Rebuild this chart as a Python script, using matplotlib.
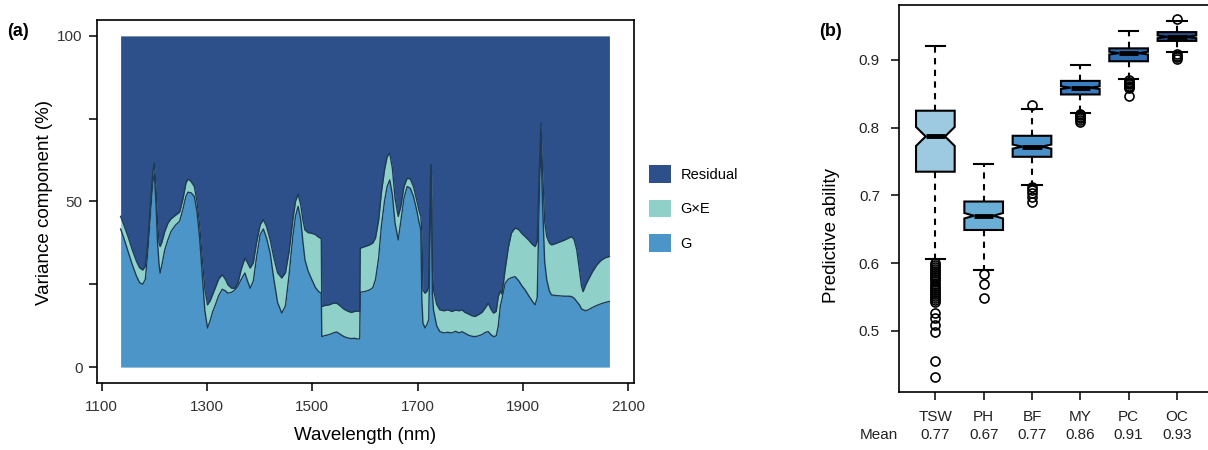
import matplotlib
matplotlib.use("Agg")
import matplotlib.pyplot as plt
from matplotlib.patches import Patch

plt.rcParams['font.family'] = ['Liberation Sans', 'DejaVu Sans']

# ---- panel (a): variance components along the spectrum ----
wavelength = [
    1136, 1142, 1150, 1158, 1166, 1172, 1178, 1183, 1188, 1193, 1197, 1200,
    1203, 1206, 1209, 1211, 1214, 1220, 1226, 1232, 1240, 1248, 1254, 1260,
    1264, 1270, 1276, 1281, 1286, 1291, 1296, 1301, 1306, 1311, 1316, 1322,
    1329, 1335, 1340, 1347, 1353, 1359, 1365, 1372, 1377, 1382, 1388, 1394,
    1401, 1407, 1413, 1420, 1427, 1434, 1442, 1449, 1456, 1463, 1468, 1473,
    1478, 1482, 1486, 1492, 1499, 1506, 1512, 1517, 1518, 1524, 1532, 1540,
    1546, 1552, 1560, 1567, 1574, 1580, 1585, 1590, 1591, 1600, 1609, 1615,
    1620, 1626, 1631, 1637, 1642, 1647, 1652, 1657, 1663, 1668, 1674, 1680,
    1686, 1692, 1698, 1703, 1706, 1708, 1710, 1714, 1718, 1721, 1724, 1725,
    1726.5, 1728, 1730, 1736, 1742, 1750, 1757, 1765, 1772, 1779, 1784, 1790,
    1797, 1803, 1809, 1815, 1822, 1829, 1834, 1839, 1844, 1849, 1853, 1857,
    1860, 1866, 1872, 1878, 1885, 1892, 1898, 1904, 1911, 1918, 1923, 1927,
    1931, 1934, 1937, 1941, 1945, 1950, 1954, 1962, 1970, 1978, 1986, 1992,
    1997, 2002, 2007, 2011, 2014, 2019, 2024, 2032, 2040, 2048, 2056, 2064,
]
# upper edge of the G layer (%)
g_top = [
    41.7, 39.0, 35.0, 31.0, 27.5, 25.5, 25.0, 26.5, 35.4, 47.0, 55.5, 58.6,
    50.0, 38.0, 31.0, 28.4, 30.5, 35.5, 38.5, 41.0, 42.8, 44.0, 47.5, 51.5,
    52.8, 52.6, 51.5, 47.0, 39.0, 28.0, 17.0, 11.8, 14.0, 16.8, 18.8, 21.5,
    23.5, 23.0, 22.3, 22.6, 23.3, 24.5, 26.5, 28.4, 26.0, 23.8, 26.0, 33.0,
    40.0, 41.7, 39.0, 34.4, 26.5, 19.5, 16.3, 18.5, 28.0, 39.5, 45.5, 48.5,
    44.5, 38.0, 32.4, 29.0, 26.4, 24.0, 22.8, 22.3, 9.2, 9.5, 9.8, 10.3,
    10.6, 10.0, 9.2, 8.8, 8.6, 8.7, 8.5, 8.5, 22.6, 22.8, 23.3, 24.0,
    26.5, 33.0, 42.4, 50.0, 54.5, 56.5, 52.0, 43.5, 38.4, 44.0, 51.0, 54.5,
    54.0, 51.5, 47.5, 43.5, 41.4, 20.0, 13.3, 11.8, 13.0, 14.3, 45.0, 54.0,
    50.0, 22.0, 17.3, 12.5, 10.7, 10.3, 10.5, 10.3, 10.8, 10.3, 10.7, 10.2,
    9.6, 9.3, 9.2, 9.4, 9.8, 10.5, 10.7, 9.8, 9.2, 9.4, 12.3, 18.5,
    20.5, 25.3, 26.5, 27.0, 27.3, 26.0, 24.5, 23.3, 21.5, 19.8, 18.8, 21.0,
    52.0, 68.1, 50.0, 32.0, 26.4, 23.0, 21.8, 21.6, 21.5, 21.4, 21.4, 21.3,
    20.8, 19.8, 18.8, 17.6, 17.3, 17.0, 17.3, 18.0, 18.6, 19.1, 19.5, 19.8,
]
# upper edge of the G×E layer (%)
gxe_top = [
    45.5, 43.0, 39.5, 35.5, 32.0, 30.0, 29.3, 30.5, 38.4, 50.0, 58.5, 61.6,
    55.0, 44.0, 37.5, 36.4, 37.5, 41.0, 43.5, 44.8, 45.8, 46.8, 50.5, 55.5,
    56.8, 56.0, 54.5, 50.0, 43.0, 33.0, 23.5, 18.8, 20.0, 22.0, 24.0, 26.5,
    27.9, 26.5, 24.8, 23.8, 23.8, 25.5, 29.5, 32.9, 31.5, 29.9, 31.5, 37.5,
    43.0, 44.5, 42.5, 38.4, 33.0, 28.5, 26.9, 28.5, 35.0, 44.5, 50.0, 52.2,
    49.0, 44.5, 41.4, 40.6, 40.4, 40.0, 39.2, 38.8, 18.3, 18.6, 18.8, 19.3,
    19.3, 18.6, 17.5, 16.9, 16.5, 16.8, 16.9, 16.8, 35.9, 36.4, 36.9, 37.5,
    39.0, 44.5, 52.5, 59.5, 63.5, 64.6, 60.0, 51.0, 45.5, 48.5, 54.5, 57.0,
    56.8, 54.5, 50.5, 47.0, 45.5, 40.5, 23.3, 22.3, 23.0, 24.3, 55.0, 61.1,
    58.0, 30.0, 23.3, 19.0, 17.3, 17.0, 17.3, 16.8, 17.2, 17.0, 17.3, 16.5,
    16.0, 15.5, 15.3, 15.8, 16.5, 18.0, 19.3, 17.5, 16.3, 16.8, 21.3, 23.0,
    22.0, 29.4, 36.0, 40.5, 42.0, 41.5, 40.3, 39.4, 38.3, 37.0, 36.4, 38.0,
    60.0, 73.6, 60.0, 44.0, 39.4, 37.5, 36.9, 37.3, 37.8, 38.3, 38.9, 39.4,
    38.5, 35.4, 29.5, 24.5, 22.8, 24.8, 26.4, 28.8, 30.8, 32.2, 33.0, 33.4,
]
layer_names = ['Residual', 'G×E', 'G']
layer_colors = ['#2d4f8a', '#8fd0c8', '#4c95c8']
edge_color = '#1d3b56'

# ---- panel (b): predictive ability per trait ----
traits = ['TSW', 'PH', 'BF', 'MY', 'PC', 'OC']
trait_means = [0.77, 0.67, 0.77, 0.86, 0.91, 0.93]
q1 = [0.735, 0.649, 0.757, 0.849, 0.898, 0.928]
med = [0.787, 0.670, 0.772, 0.859, 0.910, 0.934]
q3 = [0.825, 0.691, 0.788, 0.869, 0.917, 0.941]
whisker_lo = [0.606, 0.590, 0.715, 0.821, 0.872, 0.911]
whisker_hi = [0.920, 0.747, 0.827, 0.892, 0.943, 0.958]
notch_lo = [0.773, 0.666, 0.769, 0.857, 0.908, 0.932]
notch_hi = [0.801, 0.674, 0.775, 0.861, 0.912, 0.936]
outliers = [
    [0.601, 0.598, 0.595, 0.592, 0.589, 0.585, 0.582, 0.579, 0.576, 0.573,
     0.570, 0.567, 0.564, 0.561, 0.558, 0.555, 0.552, 0.549, 0.546, 0.543,
     0.526, 0.519, 0.509, 0.499, 0.455, 0.432],
    [0.584, 0.570, 0.549],
    [0.834, 0.712, 0.708, 0.704, 0.698, 0.690],
    [0.820, 0.818, 0.816, 0.814, 0.812, 0.809],
    [0.870, 0.868, 0.866, 0.864, 0.862, 0.860, 0.858, 0.846],
    [0.961, 0.908, 0.906, 0.904, 0.902],
]
box_colors = ['#9ecae1', '#6baed6', '#4a90c9', '#3a7cc0', '#2f6cb2', '#2b4e8a']

fig = plt.figure(figsize=(12.08, 4.5), dpi=100)

# left panel
ax1 = fig.add_axes([0.0800, 0.1489, 0.4448, 0.8067])
ax1.fill_between(wavelength, 0, g_top, color=layer_colors[2], lw=0)
ax1.fill_between(wavelength, g_top, gxe_top, color=layer_colors[1], lw=0)
ax1.fill_between(wavelength, gxe_top, 100, color=layer_colors[0], lw=0)
ax1.plot(wavelength, g_top, color=edge_color, lw=1.0)
ax1.plot(wavelength, gxe_top, color=edge_color, lw=1.0)
ax1.set_xlim(1090.5, 2110.6)
ax1.set_ylim(-4.8, 104.8)
ax1.set_xticks(range(1100, 2101, 200))
ax1.set_yticks([0, 50, 100])
ax1.set_yticks([25, 75], minor=True)
ax1.tick_params(axis='both', which='both', direction='out', length=6,
                width=1.1, labelsize=11, labelcolor='#333333')
ax1.tick_params(axis='x', pad=6)
ax1.tick_params(axis='y', pad=4)
for s in ax1.spines.values():
    s.set_linewidth(1.2)
ax1.set_xlabel('Wavelength (nm)', fontsize=13.5)
ax1.set_ylabel('Variance component (%)', fontsize=13.5)
ax1.xaxis.set_label_coords(0.5, -0.122)
ax1.yaxis.set_label_coords(-0.081, 0.497)
fig.text(0.006, 1 - 31.7 / 450, '(a)', fontsize=13, fontweight='bold',
         va='center', ha='left')

handles = [Patch(facecolor=c, edgecolor='none') for c in layer_colors]
fig.legend(handles, layer_names, loc='upper left',
           bbox_to_anchor=(649.3 / 1208, 1 - 165 / 450), frameon=False,
           fontsize=10.5, handlelength=1.5, handleheight=1.5,
           labelspacing=1.15, handletextpad=0.65, borderpad=0,
           borderaxespad=0)

# right panel
ax2 = fig.add_axes([0.7445, 0.1296, 0.26, 0.8593])
stats = []
for i, name in enumerate(traits):
    stats.append(dict(label=name, med=med[i], q1=q1[i], q3=q3[i],
                      whislo=whisker_lo[i], whishi=whisker_hi[i],
                      cilo=notch_lo[i], cihi=notch_hi[i],
                      fliers=outliers[i]))
pos = list(range(1, len(traits) + 1))
bp = ax2.bxp(stats, positions=pos, widths=0.8, shownotches=True,
             patch_artist=True,
             boxprops=dict(edgecolor='black', linewidth=1.5),
             medianprops=dict(color='black', linewidth=3.5,
                              solid_capstyle='butt'),
             whiskerprops=dict(color='black', linewidth=1.5,
                               linestyle=(0, (3, 2.6))),
             capprops=dict(color='black', linewidth=1.5),
             flierprops=dict(marker='o', markerfacecolor='none',
                             markeredgecolor='black', markersize=6.5,
                             markeredgewidth=1.2))
for patch, c in zip(bp['boxes'], box_colors):
    patch.set_facecolor(c)

ax2.set_xlim(0.255, 6.755)
ax2.set_ylim(0.4104, 0.981)
ax2.set_yticks([0.5, 0.6, 0.7, 0.8, 0.9])
ax2.set_xticks(pos)
ax2.set_xticklabels(traits)
ax2.tick_params(axis='both', direction='out', length=6, width=1.1,
                labelsize=11, labelcolor='#222222')
ax2.tick_params(axis='y', pad=8)
ax2.tick_params(axis='x', pad=7)
for s in ax2.spines.values():
    s.set_linewidth(1.2)
ax2.set_ylabel('Predictive ability', fontsize=13.5)
ax2.yaxis.set_label_coords(-0.189, 0.404)
mean_y = -0.112
ax2.text(-0.064, mean_y, 'Mean', transform=ax2.transAxes, fontsize=11,
         ha='center', va='center', color='#222222')
for p, m in zip(pos, trait_means):
    ax2.text(p, mean_y, f'{m:.2f}', transform=ax2.get_xaxis_transform(),
             fontsize=11, ha='center', va='center', color='#222222')
fig.text(819 / 1208, 1 - 31.7 / 450, '(b)', fontsize=13, fontweight='bold',
         va='center', ha='left')

fig.savefig('out.png', dpi=100)
